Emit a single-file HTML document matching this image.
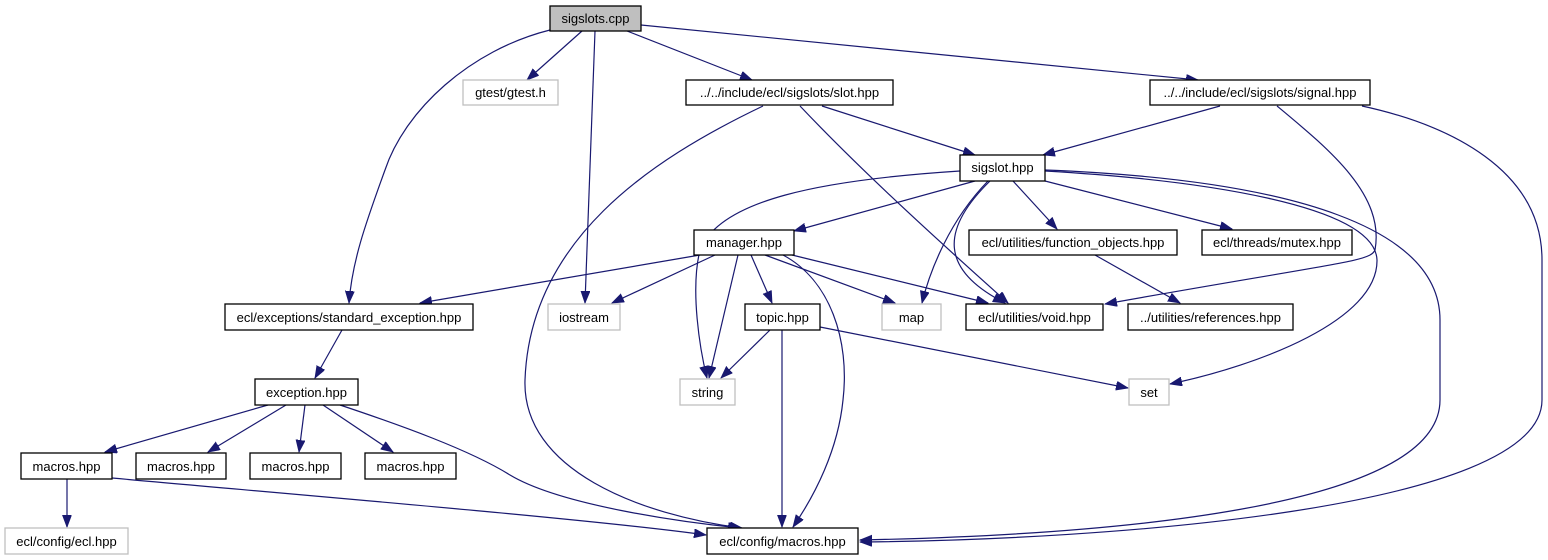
<!DOCTYPE html>
<html><head><meta charset="utf-8"><style>
html,body{margin:0;padding:0;background:#fff;}
svg{display:block;}
text{font-family:"Liberation Sans",Helvetica,sans-serif;font-size:13px;text-anchor:middle;fill:#000;}
.b{fill:#fff;stroke:#000;stroke-width:1.3;}
.g{fill:#fff;stroke:#bfbfbf;stroke-width:1.3;}
.e{fill:none;stroke:#191970;stroke-width:1.2;}
</style></head><body>
<svg width="1548" height="560" viewBox="0 0 1548 560" xmlns="http://www.w3.org/2000/svg">
<defs>
<marker id="a" markerUnits="userSpaceOnUse" markerWidth="13" markerHeight="10" refX="12" refY="4.5" orient="auto">
<path d="M0,0 L12,4.5 L0,9 z" fill="#191970" stroke="#191970" stroke-width="0.8"/>
</marker>
</defs>
<g marker-end="url(#a)" class="e">
<path d="M550,30 C470,50 405,110 385,170 C365,225 352,262 349,303"/>
<path d="M582,31 L527,80"/>
<path d="M595,31 L585,303"/>
<path d="M627,31 L752,80"/>
<path d="M641,25 L1198,80"/>
<path d="M822,106 L975,155"/>
<path d="M800,106 C870,180 960,260 1008,303"/>
<path d="M763,106 C650,160 530,240 525,380 C522,470 640,515 742,528"/>
<path d="M1220,106 L1043,155"/>
<path d="M1277,106 C1330,150 1385,195 1375,250 C1370,262 1340,262 1105,304"/>
<path d="M1362,106 C1450,125 1542,170 1542,260 L1542,400 C1542,510 1100,540 860,542"/>
<path d="M975,181 L794,231"/>
<path d="M1013,181 L1057,229"/>
<path d="M1045,181 L1232,229"/>
<path d="M988,181 C950,220 930,270 922,303"/>
<path d="M990,181 C940,230 940,270 1005,303"/>
<path d="M960,171 C820,180 720,200 700,250 C690,290 700,350 707,378"/>
<path d="M1045,171 C1200,180 1375,205 1377,260 C1378,320 1260,365 1170,384"/>
<path d="M1045,170 C1300,180 1440,230 1440,320 L1440,400 C1440,510 1100,535 860,540"/>
<path d="M700,255 L420,303"/>
<path d="M715,255 L612,303"/>
<path d="M738,255 L709,378"/>
<path d="M751,255 L772,303"/>
<path d="M765,255 L895,303"/>
<path d="M792,255 L988,303"/>
<path d="M783,255 C830,280 850,340 843,400 C838,450 815,495 793,527"/>
<path d="M1095,255 L1180,303"/>
<path d="M342,330 L315,378"/>
<path d="M268,405 L105,452"/>
<path d="M286,405 L208,452"/>
<path d="M305,405 L299,452"/>
<path d="M323,405 L393,452"/>
<path d="M340,405 C400,425 470,450 510,475 C560,505 680,522 740,528"/>
<path d="M770,330 L721,378"/>
<path d="M782,330 L782,527"/>
<path d="M820,327 L1128,388"/>
<path d="M67,479 L67,527"/>
<path d="M112,478 C300,495 600,520 706,535"/>
</g>
<rect x="550" y="6" width="91" height="25" fill="#bfbfbf" stroke="#000" stroke-width="1.3"/><text x="595.5" y="23">sigslots.cpp</text>
<rect class="g" x="463" y="80" width="95" height="25"/><text x="510.5" y="97">gtest/gtest.h</text>
<rect class="b" x="686" y="80" width="207" height="25"/><text x="789.5" y="97">../../include/ecl/sigslots/slot.hpp</text>
<rect class="b" x="1150" y="80" width="220" height="25"/><text x="1260" y="97">../../include/ecl/sigslots/signal.hpp</text>
<rect class="b" x="960" y="155" width="85" height="26"/><text x="1002.5" y="172">sigslot.hpp</text>
<rect class="b" x="694" y="230" width="100" height="25"/><text x="744" y="247">manager.hpp</text>
<rect class="b" x="969" y="230" width="208" height="25"/><text x="1073" y="247">ecl/utilities/function_objects.hpp</text>
<rect class="b" x="1202" y="230" width="150" height="25"/><text x="1277" y="247">ecl/threads/mutex.hpp</text>
<rect class="b" x="225" y="304" width="248" height="26"/><text x="349" y="322">ecl/exceptions/standard_exception.hpp</text>
<rect class="g" x="548" y="304" width="72" height="26"/><text x="584" y="322">iostream</text>
<rect class="b" x="745" y="304" width="75" height="26"/><text x="782.5" y="322">topic.hpp</text>
<rect class="g" x="882" y="304" width="59" height="26"/><text x="911.5" y="322">map</text>
<rect class="b" x="966" y="304" width="137" height="26"/><text x="1034.5" y="322">ecl/utilities/void.hpp</text>
<rect class="b" x="1128" y="304" width="165" height="26"/><text x="1210.5" y="322">../utilities/references.hpp</text>
<rect class="b" x="255" y="379" width="103" height="26"/><text x="306.5" y="397">exception.hpp</text>
<rect class="g" x="680" y="379" width="55" height="26"/><text x="707.5" y="397">string</text>
<rect class="g" x="1129" y="379" width="40" height="26"/><text x="1149" y="397">set</text>
<rect class="b" x="21" y="453" width="91" height="26"/><text x="66.5" y="471">macros.hpp</text>
<rect class="b" x="136" y="453" width="90" height="26"/><text x="181" y="471">macros.hpp</text>
<rect class="b" x="250" y="453" width="91" height="26"/><text x="295.5" y="471">macros.hpp</text>
<rect class="b" x="365" y="453" width="91" height="26"/><text x="410.5" y="471">macros.hpp</text>
<rect class="g" x="5" y="528" width="123" height="26"/><text x="66.5" y="546">ecl/config/ecl.hpp</text>
<rect class="b" x="707" y="528" width="151" height="26"/><text x="782.5" y="546">ecl/config/macros.hpp</text>
</svg>
</body></html>
